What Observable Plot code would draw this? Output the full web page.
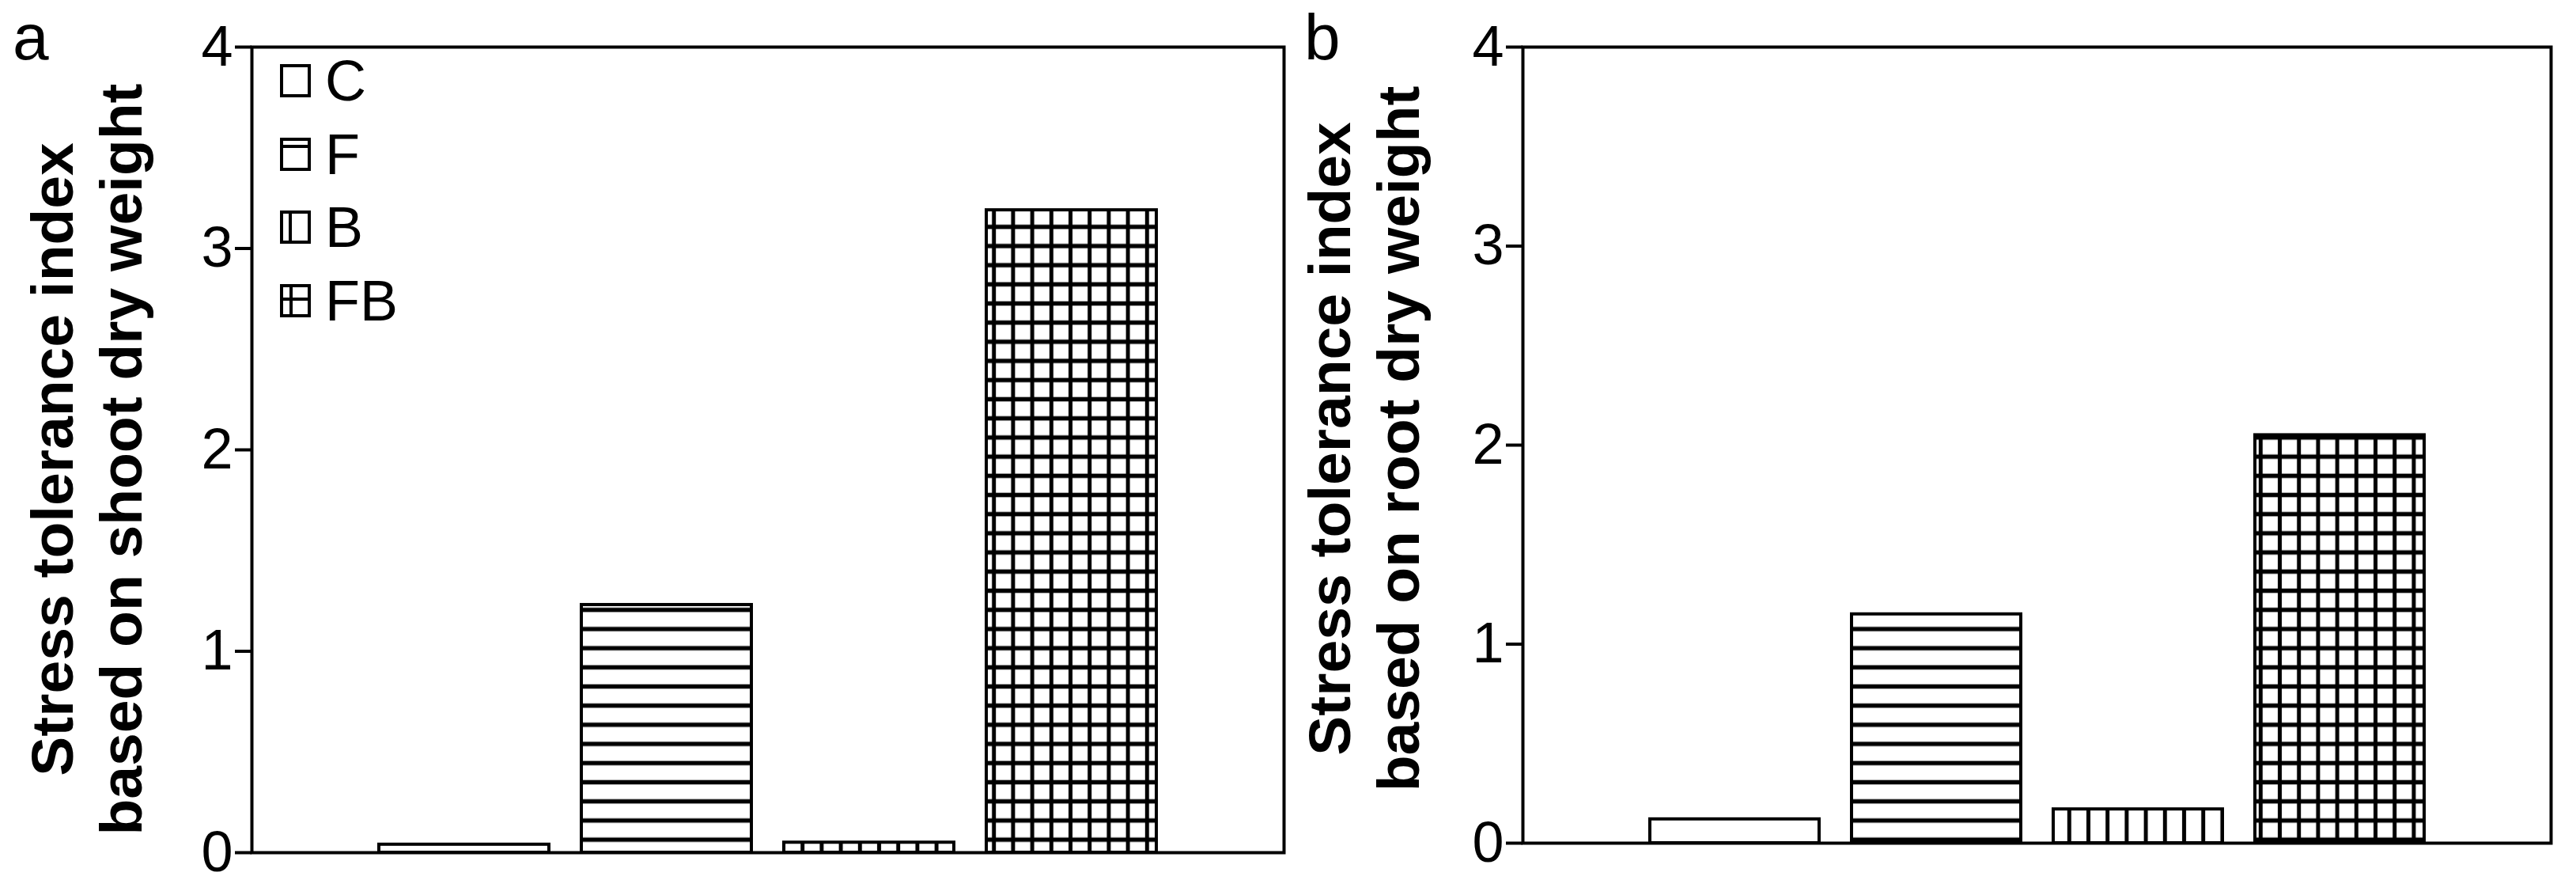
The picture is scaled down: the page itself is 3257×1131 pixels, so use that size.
<!DOCTYPE html>
<html>
<head>
<meta charset="utf-8">
<script src="https://cdn.jsdelivr.net/npm/d3@7"></script>
<script src="https://cdn.jsdelivr.net/npm/@observablehq/plot@0.6"></script>
<style>
  html, body { margin: 0; padding: 0; background: #fff; }
  #page { position: relative; width: 3257px; height: 1131px; overflow: hidden; background: #fff;
          font-family: "Liberation Sans", Arial, Helvetica, sans-serif; color: #000; }
  #page svg.panel { position: absolute; top: 0; }
  .plabel { position: absolute; font-size: 82px; line-height: 1.117; }
  .leg { position: absolute; display: flex; align-items: center; }
  .leg span { font-size: 72px; margin-left: 18px; line-height: 1; }
</style>
</head>
<body>
<svg width="0" height="0" style="position:absolute">
  <defs>
    <pattern id="pC" patternUnits="userSpaceOnUse" width="24.2" height="24.2">
      <rect width="24.2" height="24.2" fill="#fff"/>
    </pattern>
    <pattern id="pF" patternUnits="userSpaceOnUse" width="24.2" height="24.2" x="0" y="8.4">
      <rect width="24.2" height="24.2" fill="#fff"/>
      <line x1="-1" x2="25.2" y1="12.1" y2="12.1" stroke="#000" stroke-width="5.5"/>
    </pattern>
    <pattern id="pB" patternUnits="userSpaceOnUse" width="24.2" height="24.2" x="10.4" y="0">
      <rect width="24.2" height="24.2" fill="#fff"/>
      <line y1="-1" y2="25.2" x1="12.1" x2="12.1" stroke="#000" stroke-width="5"/>
    </pattern>
    <pattern id="pFB" patternUnits="userSpaceOnUse" width="24.2" height="24.2" x="10.4" y="8.4">
      <rect width="24.2" height="24.2" fill="#fff"/>
      <line x1="-1" x2="25.2" y1="12.1" y2="12.1" stroke="#000" stroke-width="5.5"/>
      <line y1="-1" y2="25.2" x1="12.1" x2="12.1" stroke="#000" stroke-width="5"/>
    </pattern>
  </defs>
</svg>
<div id="page"></div>
<script>
// ---------------- data ----------------
const categories = ["C", "F", "B", "FB"];
const shootSTI = [0.04, 1.23, 0.05, 3.19];   // panel a
const rootSTI  = [0.12, 1.15, 0.17, 2.05];   // panel b
const yTicks = [0, 1, 2, 3, 4];
const titleA = ["Stress tolerance index", "based on shoot dry weight"];
const titleB = ["Stress tolerance index", "based on root dry weight"];
const panelLabels = ["a", "b"];

// ---------------- styles ----------------
const fills = ["url(#pC)", "url(#pF)", "url(#pB)", "url(#pFB)"];
const FONT = '"Liberation Sans", Arial, Helvetica, sans-serif';

function panel(values, title, geom) {
  const data = categories.map((c, i) => ({cat: c, value: values[i]}));
  const svg = Plot.plot({
    width: geom.width,
    height: geom.height,
    marginLeft: geom.ml,
    marginRight: geom.mr,
    marginTop: geom.mt,
    marginBottom: geom.mb,
    x: {domain: categories, paddingInner: 0.161, paddingOuter: 0.623, axis: null},
    y: {domain: [0, 4]},
    color: {type: "ordinal", domain: categories, range: fills},
    style: {fontFamily: FONT, background: "transparent", color: "#000", overflow: "visible"},
    marks: [
      Plot.barY(data, {x: "cat", y: "value", fill: "cat", stroke: "#000", strokeWidth: 4}),
      Plot.frame({stroke: "#000", strokeWidth: 4}),
      Plot.axisY({ticks: yTicks, tickSize: 21, tickPadding: 3, fontSize: 72,
                  strokeWidth: 4, label: null, tickFormat: d => String(d)}),
      Plot.text([title.join("\n")], {
        text: d => d, frameAnchor: "left", rotate: -90,
        dx: geom.tdx, dy: geom.tdy, fontSize: 75, fontWeight: "bold",
        lineHeight: 1.17, textAnchor: "middle", fill: "#000"
      })
    ]
  });
  svg.classList.add("panel");
  svg.style.left = geom.left + "px";
  return svg;
}

const page = document.getElementById("page");
page.appendChild(panel(shootSTI, titleA,
  {left: 0, width: 1650, height: 1131, ml: 318, mr: 27, mt: 59, mb: 54, tdx: -211, tdy: 12}));
page.appendChild(panel(rootSTI, titleB,
  {left: 1650, width: 1607, height: 1131, ml: 275, mr: 32, mt: 59, mb: 66, tdx: -203, tdy: -8}));

// panel letters
[[panelLabels[0], 16], [panelLabels[1], 1649]].forEach(([t, x]) => {
  const d = document.createElement("div");
  d.className = "plabel";
  d.textContent = t;
  d.style.left = x + "px";
  d.style.top = "1px";
  page.appendChild(d);
});

// legend (inside panel a, top-left)
const swatchLines = {
  C: "",
  F: '<line x1="2" x2="37" y1="11" y2="11" stroke="#000" stroke-width="4"/>',
  B: '<line x1="13" x2="13" y1="2" y2="40" stroke="#000" stroke-width="4"/>',
  FB: '<line x1="2" x2="37" y1="19" y2="19" stroke="#000" stroke-width="4"/><line x1="14" x2="14" y1="2" y2="40" stroke="#000" stroke-width="4"/>'
};
categories.forEach((c, i) => {
  const item = document.createElement("div");
  item.className = "leg";
  item.style.left = "354px";
  item.style.top = (102 + 92.6 * i - 21) + "px";
  item.style.height = "42px";
  item.innerHTML = `<svg width="39" height="42" style="overflow:visible">
      <rect x="2" y="2" width="35" height="38" fill="#fff" stroke="#000" stroke-width="4"/>
      ${swatchLines[c]}</svg><span>${c}</span>`;
  page.appendChild(item);
});
</script>
</body>
</html>
